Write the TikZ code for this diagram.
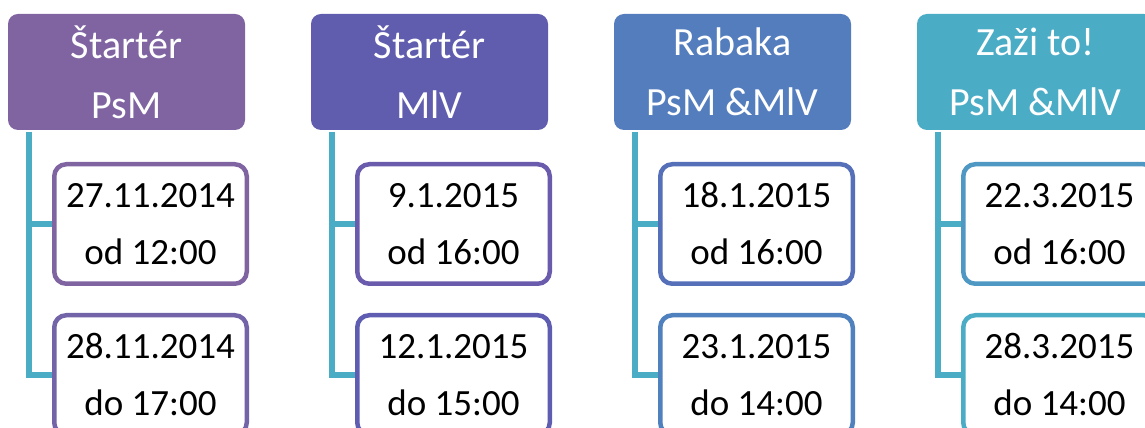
\documentclass[tikz,border=0pt]{standalone}
\usepackage{fontspec}
\setmainfont{Carlito}
\usepackage{tikz}
\usetikzlibrary{positioning, calc}
\definecolor{hdrA}{HTML}{8064A2}
\definecolor{hdrB}{HTML}{605CAE}
\definecolor{hdrC}{HTML}{547DBE}
\definecolor{hdrD}{HTML}{4BACC6}
\definecolor{dayA}{HTML}{8064A2}
\definecolor{dayB}{HTML}{7363A8}
\definecolor{dayC}{HTML}{6A5BAC}
\definecolor{dayD}{HTML}{5E5DB2}
\definecolor{dayE}{HTML}{5570B9}
\definecolor{dayF}{HTML}{5081BF}
\definecolor{dayG}{HTML}{4E98C3}
\definecolor{dayH}{HTML}{4BACC6}
\tikzset{%
  header/.style={rectangle, rounded corners=10pt, inner sep=0pt, outer sep=0pt,
    minimum width=237pt, minimum height=116pt, align=center, text=white,
    font=\fontsize{40}{60}\selectfont}, % the coloured event titles
  datebox/.style={rectangle, rounded corners=12pt, draw, fill=white, line width=4.5pt,
    inner sep=0pt, minimum width=192.5pt, minimum height=119.5pt, align=center,
    text=black, font=\fontsize{37}{57}\selectfont}, % white boxes with the dates
  link/.style={draw=hdrD, line width=5.5pt} % the connectors
}

\begin{document}
\begin{tikzpicture}
    \useasboundingbox (0,0) rectangle (1145pt,428pt);
    \node[header, fill=hdrA] (h1) at (126.5pt,356pt) {Štartér\\PsM};
    \node[header, fill=hdrB, right=66pt of h1] (h2) {Štartér\\MlV};
    \node[header, fill=hdrC, right=66pt of h2] (h3) {Rabaka\\PsM \&MlV};
    \node[header, fill=hdrD, right=66pt of h3] (h4) {Zaži to!\\PsM \&MlV};

    \node[datebox, draw=dayA, below right=32pt and 44pt of h1.south west] (d1a) {27.11.2014\\od 12:00};
    \node[datebox, draw=dayB, below=27pt of d1a] (d1b) {28.11.2014\\do 17:00};
    \node[datebox, draw=dayC, below right=32pt and 44pt of h2.south west] (d2a) {9.1.2015\\od 16:00};
    \node[datebox, draw=dayD, below=27pt of d2a] (d2b) {12.1.2015\\do 15:00};
    \node[datebox, draw=dayE, below right=32pt and 44pt of h3.south west] (d3a) {18.1.2015\\od 16:00};
    \node[datebox, draw=dayF, below=27pt of d3a] (d3b) {23.1.2015\\do 14:00};
    \node[datebox, draw=dayG, below right=32pt and 44pt of h4.south west] (d4a) {22.3.2015\\od 16:00};
    \node[datebox, draw=dayH, below=27pt of d4a] (d4b) {28.3.2015\\do 14:00};

    \coordinate[below right=2pt and 21pt of h1.south west] (r1);
    \coordinate[below right=2pt and 21pt of h2.south west] (r2);
    \coordinate[below right=2pt and 21pt of h3.south west] (r3);
    \coordinate[below right=2pt and 21pt of h4.south west] (r4);

    \draw[link] (r1) |- (d1a.west);
    \draw[link] (r1) |- (d1b.west);
    \draw[link] (r2) |- (d2a.west);
    \draw[link] (r2) |- (d2b.west);
    \draw[link] (r3) |- (d3a.west);
    \draw[link] (r3) |- (d3b.west);
    \draw[link] (r4) |- (d4a.west);
    \draw[link] (r4) |- (d4b.west);
  \end{tikzpicture}
\end{document}
